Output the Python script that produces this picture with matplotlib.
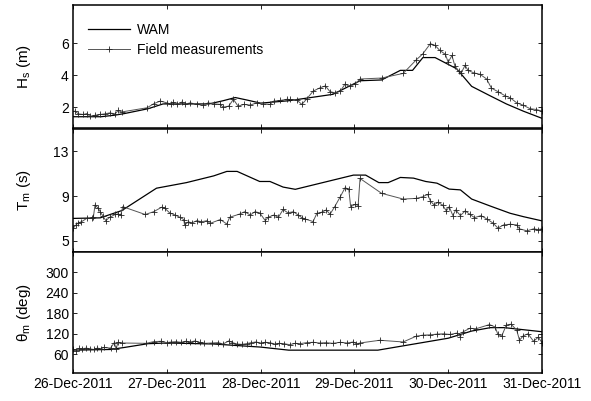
import matplotlib
matplotlib.use('Agg')
import matplotlib.pyplot as plt

plt.rcParams['font.family'] = ['Liberation Sans', 'DejaVu Sans']
plt.rcParams['font.size'] = 10

# time in days after 26-Dec-2011 00:00
day_labels = ['26-Dec-2011', '27-Dec-2011', '28-Dec-2011',
              '29-Dec-2011', '30-Dec-2011', '31-Dec-2011']

# --- significant wave height
wam_t_hs = [0, 0.3, 0.45, 0.55, 0.8, 0.96, 1.2, 1.45, 1.6, 1.73, 1.85, 2.0,
            2.3, 2.77, 3.06, 3.29, 3.49, 3.62, 3.73, 3.86, 4.09, 4.25, 4.45,
            4.62, 4.80, 5.0]
wam_hs = [1.4, 1.4, 1.5, 1.6, 1.9, 2.2, 2.2, 2.2, 2.4, 2.6, 2.45, 2.25,
          2.4, 2.8, 3.65, 3.7, 4.3, 4.3, 5.1, 5.1, 4.4, 3.3, 2.7,
          2.2, 1.75, 1.3]

obs_t_hs = [0.02, 0.057, 0.11, 0.15, 0.18, 0.235, 0.29, 0.34, 0.39, 0.45,
            0.48, 0.52, 0.79, 0.86, 0.93, 1.0, 1.04, 1.07, 1.11, 1.16, 1.19,
            1.25, 1.32, 1.39, 1.44, 1.50, 1.57, 1.60, 1.66, 1.71, 1.76, 1.82,
            1.89, 1.96, 2.03, 2.10, 2.14, 2.21, 2.28, 2.31, 2.385, 2.44, 2.49,
            2.56, 2.63, 2.69, 2.74, 2.79, 2.85, 2.90, 2.95, 3.01, 3.06, 3.29,
            3.52, 3.66, 3.73, 3.81, 3.86, 3.91, 3.97, 4.00, 4.04, 4.07, 4.11,
            4.14, 4.18, 4.21, 4.27, 4.34, 4.41, 4.46, 4.53, 4.61, 4.66, 4.73,
            4.80, 4.87, 4.94, 5.00]
obs_hs = [1.75, 1.58, 1.54, 1.6, 1.43, 1.49, 1.54, 1.58, 1.64, 1.58,
          1.79, 1.70, 1.96, 2.21, 2.38, 2.27, 2.2, 2.30, 2.17, 2.32, 2.17,
          2.27, 2.17, 2.13, 2.27, 2.21, 2.17, 2.0, 2.06, 2.49, 2.06, 2.17,
          2.13, 2.27, 2.21, 2.17, 2.38, 2.42, 2.49, 2.48, 2.45, 2.17, 2.5,
          3.0, 3.2, 3.33, 2.97, 2.9, 3.0, 3.44, 3.3, 3.45, 3.76, 3.82,
          4.11, 4.96, 5.34, 5.97, 5.86, 5.55, 5.3, 4.81, 5.23, 4.6, 4.24,
          4.15, 4.62, 4.3, 4.15, 4.05, 3.76, 3.19, 2.97, 2.7, 2.59, 2.27,
          2.12, 1.91, 1.85, 1.75]

# --- mean wave period
wam_t_tm = [0, 0.29, 0.52, 0.89, 1.21, 1.5, 1.64, 1.75, 1.99, 2.1, 2.24,
            2.37, 2.99, 3.12, 3.26, 3.36, 3.49, 3.63, 3.76, 3.88, 4.01,
            4.13, 4.25, 4.45, 4.66, 4.8, 5.0]
wam_tm = [7.0, 7.05, 7.7, 9.7, 10.2, 10.8, 11.2, 11.2, 10.3, 10.3, 9.8,
          9.6, 10.87, 10.87, 10.2, 10.2, 10.66, 10.6, 10.3, 10.15, 9.62,
          9.55, 8.73, 8.1, 7.46, 7.16, 6.78]

obs_t_tm = [0.0, 0.03, 0.055, 0.09, 0.146, 0.2, 0.217, 0.235, 0.27, 0.29,
            0.32, 0.35, 0.39, 0.45, 0.48, 0.51, 0.53, 0.77, 0.86, 0.945,
            0.98, 1.03, 1.09, 1.14, 1.18, 1.19, 1.23, 1.27, 1.32, 1.37, 1.43,
            1.46, 1.57, 1.64, 1.67, 1.78, 1.83, 1.89, 1.94, 1.99, 2.05, 2.08,
            2.14, 2.19, 2.24, 2.29, 2.35, 2.40, 2.44, 2.47, 2.56, 2.60, 2.65,
            2.70, 2.74, 2.79, 2.85, 2.90, 2.94, 2.96, 3.01, 3.04, 3.06, 3.29,
            3.52, 3.66, 3.73, 3.78, 3.81, 3.85, 3.89, 3.94, 3.98, 4.01, 4.05,
            4.08, 4.13, 4.18, 4.23, 4.28, 4.35, 4.41, 4.48, 4.53, 4.59, 4.66,
            4.73, 4.76, 4.84, 4.91, 4.96, 5.0]
obs_tm = [6.1, 6.4, 6.6, 6.7, 7.0, 7.0, 7.1, 8.2, 7.9, 7.6,
          7.2, 6.8, 7.1, 7.35, 7.4, 7.3, 8.05, 7.35, 7.6, 8.0,
          7.9, 7.5, 7.3, 7.1, 6.9, 6.4, 6.7, 6.6, 6.8, 6.7, 6.8,
          6.55, 6.9, 6.5, 7.1, 7.4, 7.6, 7.3, 7.6, 7.5, 6.8, 7.1,
          7.3, 7.1, 7.8, 7.5, 7.6, 7.3, 7.07, 6.96, 6.72, 7.46, 7.55,
          7.76, 7.37, 8.05, 8.94, 9.74, 9.62, 8.05, 8.26, 8.15, 10.57, 9.24,
          8.73, 8.79, 8.94, 9.15, 8.56, 8.2, 8.44, 8.2, 7.67, 8.05, 7.25,
          7.76, 7.25, 7.67, 7.37, 7.07, 7.25, 6.96, 6.57, 6.13, 6.42, 6.48,
          6.42, 6.07, 5.89, 6.07, 6.0, 6.07]

# --- mean wave direction
wam_t_th = [0, 0.4, 0.55, 0.8, 1.0, 1.5, 2.0, 2.3, 3.25, 4.0, 4.25, 4.45,
            4.6, 5.0]
wam_th = [72, 74, 80, 91, 93, 90, 81, 72, 72, 107, 128, 138, 138, 126]

obs_t_th = [0.0, 0.03, 0.06, 0.1, 0.14, 0.18, 0.22, 0.26, 0.3, 0.33, 0.40,
            0.44, 0.46, 0.48, 0.52, 0.78, 0.86, 0.94, 1.0, 1.05, 1.1, 1.15,
            1.2, 1.25, 1.3, 1.35, 1.4, 1.48, 1.55, 1.6, 1.66, 1.7, 1.75, 1.8,
            1.85, 1.9, 1.95, 2.0, 2.05, 2.1, 2.15, 2.2, 2.25, 2.31, 2.37,
            2.42, 2.49, 2.56, 2.63, 2.70, 2.77, 2.85, 2.92, 2.99, 3.02, 3.06,
            3.27, 3.52, 3.66, 3.73, 3.81, 3.88, 3.95, 4.02, 4.09, 4.13, 4.16,
            4.23, 4.30, 4.44, 4.50, 4.53, 4.57, 4.62, 4.67, 4.73, 4.76, 4.80,
            4.85, 4.91, 4.96, 5.0]
obs_th = [75, 70, 77, 76, 78, 76, 74, 78, 76, 80, 78,
          94, 76, 95, 93, 92, 97, 98, 94, 96, 97, 95,
          98, 96, 99, 95, 92, 93, 94, 90, 99, 94, 90, 89,
          91, 94, 96, 93, 95, 94, 90, 92, 91, 88, 92,
          91, 94, 95, 93, 94, 92, 95, 93, 96, 90, 93,
          101, 96, 113, 116, 117, 119, 120, 118, 122, 112, 126,
          136, 135, 147, 140, 118, 113, 146, 148, 131, 101, 114,
          120, 98, 110, 94]

panels = [
    (wam_t_hs, wam_hs, obs_t_hs, obs_hs, 'H$_\\mathregular{s}$ (m)', (0.7, 8.4), [2, 4, 6]),
    (wam_t_tm, wam_tm, obs_t_tm, obs_tm, 'T$_\\mathregular{m}$ (s)', (4, 15), [5, 9, 13]),
    (wam_t_th, wam_th, obs_t_th, obs_th, 'θ$_\\mathregular{m}$ (deg)', (5, 360), [60, 120, 180, 240, 300]),
]

fig = plt.figure(figsize=(5.91, 4.01), dpi=100)
boxes = [(0.1235, 0.681, 0.7936, 0.307),
         (0.1235, 0.3716, 0.7936, 0.307),
         (0.1235, 0.0698, 0.7936, 0.302)]

for i, (wt, wv, ot, ov, lab, ylim, yt) in enumerate(panels):
    ax = fig.add_axes(boxes[i])
    ax.plot(wt, wv, color='black', lw=0.9, label='WAM')
    ax.plot(ot, ov, color='#555555', lw=0.7, marker='+', ms=4.5, mew=0.6,
            mec='#222222', label='Field measurements')
    ax.set_xlim(0, 5)
    ax.set_ylim(*ylim)
    ax.set_yticks(yt)
    ax.set_xticks(range(6))
    if i == 2:
        ax.set_xticklabels(day_labels)
    else:
        ax.set_xticklabels([])
    ax.tick_params(direction='in', length=3, width=0.6, top=True, right=True,
                   labelsize=10, pad=3)
    for s in ax.spines.values():
        s.set_linewidth(1.1)
    ax.set_ylabel(lab, fontsize=11)
    ax.yaxis.set_label_coords(-0.085, 0.5)
    if i == 0:
        ax.legend(loc='upper left', bbox_to_anchor=(0.02, 0.898),
                  frameon=False, handlelength=3.0, fontsize=10,
                  borderaxespad=0, labelspacing=0.45, handletextpad=0.5)

fig.savefig('out.png', dpi=100)
